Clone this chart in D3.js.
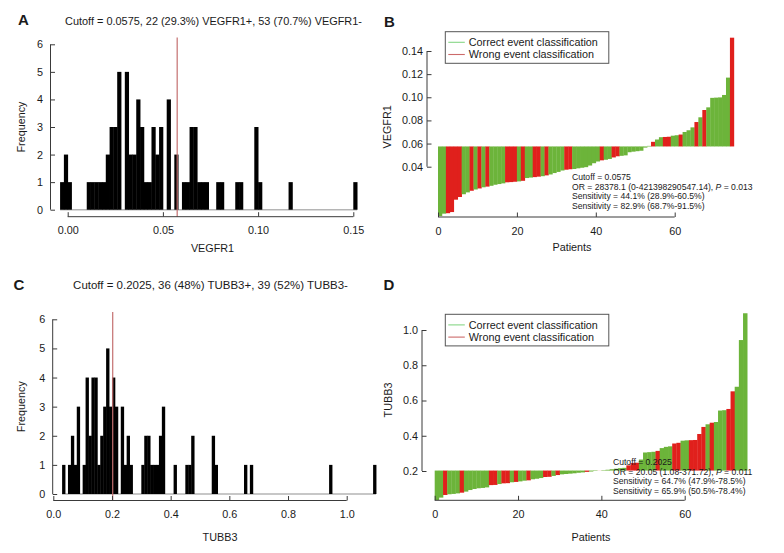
<!DOCTYPE html>
<html><head><meta charset="utf-8">
<script src="https://cdn.jsdelivr.net/npm/d3@7"></script>
<style>body{margin:0;background:#fff}svg{display:block}</style>
</head><body><svg id="c" width="784" height="553"></svg>
<script>
// ---------- DATA ----------
// Panel A: VEGFR1 histogram (bin lower edges, width 0.002)
const vegfrBinX0 = [-0.004,-0.002,0.000,0.010,0.012,0.014,0.016,0.018,0.020,0.022,0.024,0.026,0.030,0.032,0.034,0.036,0.038,0.040,0.042,0.044,0.046,0.048,0.052,0.056,0.060,0.062,0.064,0.066,0.068,0.070,0.072,0.078,0.080,0.088,0.090,0.098,0.100,0.116,0.150];
const vegfrBinCounts = [1,2,1,1,1,1,1,1,2,3,3,5,5,2,2,4,3,1,1,3,2,3,4,2,1,1,3,3,1,1,1,1,1,1,1,3,1,1,1];
const vegfrBinWidth = 0.002;
const vegfrXTicks = [0, 0.05, 0.10, 0.15];
const freqTicks = [0,1,2,3,4,5,6];

// Panel B: VEGFR1 sorted per patient, wrong classification flag (1 = wrong)
const vegfrValues = [-0.0027,-0.0006,-0.0002,0.0008,0.0115,0.0138,0.0162,0.0178,0.0192,0.0203,
  0.0212,0.0222,0.0228,0.0235,0.0244,0.0250,0.0256,0.0265,0.0267,0.0270,
  0.0273,0.0278,0.0302,0.0306,0.0310,0.0314,0.0318,0.0325,0.0333,0.0345,
  0.0355,0.0367,0.0374,0.0378,0.0380,0.0386,0.0391,0.0396,0.0410,0.0430,
  0.0445,0.0455,0.0460,0.0467,0.0480,0.0490,0.0494,0.0498,0.0525,0.0530,
  0.0534,0.0538,0.0565,0.0580,0.0615,0.0635,0.0655,0.0657,0.0659,0.0668,
  0.0672,0.0678,0.0700,0.0715,0.0740,0.0786,0.0827,0.0890,0.0913,0.0995,
  0.0997,0.0999,0.1020,0.1170,0.1515];
const vegfrWrong = [0,0,1,1,1,1,0,0,1,0, 1,0,1,0,0,0,0,1,1,1, 0,1,0,0,1,1,0,1,0,0,
  0,0,1,1,0,0,0,0,0,0, 0,1,0,0,1,1,0,0,0,0, 0,0,0,0,1,0,0,1,1,0,
  0,1,0,0,0,1,0,1,0,0, 0,0,0,0,1];
const vegfrCutoff = 0.0575;
const vegfrYTicks = [0.04,0.06,0.08,0.10,0.12,0.14];
const patientTicks = [0,20,40,60];

// Panel C: TUBB3 histogram (bin lower edges, width 0.01)
const tubbBinX0 = [0.03,0.05,0.06,0.07,0.08,0.10,0.11,0.12,0.13,0.14,0.15,0.16,0.17,0.18,0.19,0.20,0.21,0.23,0.24,0.25,0.26,0.30,0.31,0.32,0.33,0.34,0.35,0.36,0.37,0.41,0.45,0.46,0.47,0.54,0.55,0.65,0.67,0.94,1.09];
const tubbBinCounts = [1,1,2,1,3,1,4,2,4,4,1,2,3,5,3,4,3,3,1,2,1,1,2,2,1,1,1,2,3,1,1,1,2,2,1,1,1,1,1];
const tubbBinWidth = 0.01;
const tubbXTicks = [0,0.2,0.4,0.6,0.8,1.0];

// Panel D: TUBB3 sorted per patient
const tubbValues = [0.0355,0.049,0.064,0.068,0.070,0.073,0.077,0.083,0.092,0.098,
  0.102,0.104,0.107,0.120,0.121,0.126,0.130,0.131,0.136,0.138,
  0.141,0.145,0.147,0.153,0.156,0.160,0.166,0.167,0.172,0.177,
  0.181,0.183,0.185,0.187,0.190,0.192,0.195,0.197,0.200,0.203,
  0.205,0.207,0.210,0.213,0.216,0.218,0.232,0.245,0.247,0.265,
  0.305,0.307,0.309,0.314,0.330,0.337,0.340,0.356,0.360,0.372,
  0.374,0.375,0.376,0.410,0.450,0.465,0.474,0.478,0.543,0.545,
  0.552,0.652,0.678,0.943,1.095];
const tubbWrong = [0,0,1,0,0,0,1,0,0,0, 0,0,0,1,1,0,1,1,0,1, 0,0,1,0,0,0,1,1,0,1,
  0,0,0,0,0,0,1,0,0,1, 0,0,0,0,0,0,1,1,1,0, 0,0,0,1,0,0,0,1,1,0,
  0,1,1,1,1,0,1,0,0,0, 1,1,0,0,0];
const tubbCutoff = 0.2025;
const tubbYTicks = [0.2,0.4,0.6,0.8,1.0];

const legendLabels = ["Correct event classification","Wrong event classification"];
const titleA = "Cutoff = 0.0575, 22 (29.3%) VEGFR1+, 53 (70.7%) VEGFR1-";
const titleC = "Cutoff = 0.2025, 36 (48%) TUBB3+, 39 (52%) TUBB3-";
const statsB = ["Cutoff = 0.0575", ["OR = 28378.1 (0-421398290547.14), ","P"," = 0.013"], "Sensitivity = 44.1% (28.9%-60.5%)", "Sensitivity = 82.9% (68.7%-91.5%)"];
const statsD = ["Cutoff = 0.2025", ["OR = 20.05 (1.08-371.72), ","P"," = 0.011"], "Sensitivity = 64.7% (47.9%-78.5%)", "Sensitivity = 65.9% (50.5%-78.4%)"];

// ---------- DRAW ----------
const FONT = '"Liberation Sans", Arial, sans-serif';
const GREEN = "#6cb43a", RED = "#e0201c", AXIS = "#3a3a3a", TXT = "#1a1a1a";
const svg = d3.select("#c").attr("font-family", FONT);

function styleAxis(a, fs) {
  a.attr("font-family", FONT).attr("font-size", fs);
  a.selectAll(".tick line").attr("stroke", AXIS);
  a.selectAll(".tick text").attr("fill", TXT);
  a.select(".domain").remove();
}
function xAxis(scale, ticks, fmt, y, pad) {
  const a = svg.append("g").attr("transform", `translate(0,${y})`)
    .call(d3.axisBottom(scale).tickValues(ticks).tickFormat(fmt).tickSizeInner(-4.5).tickSizeOuter(0).tickPadding(pad));
  styleAxis(a, 10.8);
  a.append("line").attr("x1", scale(ticks[0])).attr("x2", scale(ticks[ticks.length-1])).attr("stroke", AXIS);
}
function yAxis(scale, ticks, fmt, x, pad) {
  const a = svg.append("g").attr("transform", `translate(${x},0)`)
    .call(d3.axisLeft(scale).tickValues(ticks).tickFormat(fmt).tickSizeInner(-4.5).tickSizeOuter(0).tickPadding(pad));
  styleAxis(a, 10.8);
  a.append("line").attr("y1", scale(ticks[0])).attr("y2", scale(ticks[ticks.length-1])).attr("stroke", AXIS);
}
function label(txt, x, y, opt = {}) {
  const t = svg.append("text").attr("x", x).attr("y", y).text(txt)
    .attr("font-size", opt.fs || 10.8).attr("fill", TXT)
    .attr("text-anchor", opt.anchor || "middle");
  if (opt.bold) t.attr("font-weight", "bold");
  if (opt.rot) t.attr("transform", `rotate(-90,${x},${y})`);
  if (opt.fitW) {
    const w = t.node().getComputedTextLength();
    if (w > 0) t.attr("font-size", (opt.fs || 10.8) * opt.fitW / w);
  }
  return t;
}

function histogram(cfg) {
  const x = d3.scaleLinear().domain([cfg.xTicks[0], cfg.xTicks[cfg.xTicks.length-1]]).range(cfg.xRange);
  const y = d3.scaleLinear().domain([0, 6]).range(cfg.yRange);
  const bins = cfg.x0.map((d, i) => ({x0: d, x1: d + cfg.w, n: cfg.counts[i]}));
  svg.append("line").attr("x1", x(bins[0].x0)).attr("x2", x(bins[bins.length-1].x1))
    .attr("y1", y(0)).attr("y2", y(0)).attr("stroke", "#b5b5b5").attr("stroke-width", 1.6);
  svg.append("g").selectAll("rect").data(bins).join("rect")
    .attr("x", d => x(d.x0)).attr("width", d => x(d.x1) - x(d.x0) + 0.4)
    .attr("y", d => y(d.n)).attr("height", d => y(0) - y(d.n)).attr("fill", "#000");
  svg.append("line").attr("x1", x(cfg.cutoff)).attr("x2", x(cfg.cutoff))
    .attr("y1", cfg.top).attr("y2", cfg.axisY).attr("stroke", "#c46f6f").attr("stroke-width", 1.2);
  xAxis(x, cfg.xTicks, cfg.fmt, cfg.axisY, 10);
  yAxis(y, freqTicks, d3.format("d"), cfg.axisX, 7.5);
  label(cfg.title, cfg.titleX, cfg.titleY, {fs: 11, fitW: cfg.titleW});
  label("Frequency", cfg.freqX, (cfg.yRange[0] + cfg.yRange[1]) / 2, {rot: true});
  label(cfg.xlab, cfg.xlabX, cfg.xlabY);
}

function waterfall(cfg) {
  const x = d3.scaleLinear().domain([0, 60]).range(cfg.xRange);
  const y = d3.scaleLinear().domain([cfg.yTicks[0], cfg.yTicks[cfg.yTicks.length-1]]).range(cfg.yRange);
  const data = cfg.values.map((v, i) => ({i, v, wrong: cfg.wrong[i]}));
  svg.append("g").selectAll("rect").data(data).join("rect")
    .attr("x", d => x(d.i)).attr("width", d => x(d.i + 1) - x(d.i) + 0.3)
    .attr("y", d => y(Math.max(d.v, cfg.cutoff)))
    .attr("height", d => Math.abs(y(d.v) - y(cfg.cutoff)))
    .attr("fill", d => d.wrong ? RED : GREEN);
  xAxis(x, patientTicks, d3.format("d"), cfg.axisY, 10);
  yAxis(y, cfg.yTicks, cfg.fmt, cfg.axisX, 4);
  label("Patients", cfg.patX, cfg.patY);
  label(cfg.ylab, cfg.ylabX, (cfg.yRange[0] + cfg.yRange[1]) / 2 + cfg.ylabDy, {rot: true});
  // legend
  const lg = svg.append("g").attr("transform", `translate(${cfg.legX},${cfg.legY})`);
  lg.append("rect").attr("width", 163.5).attr("height", 31.6).attr("fill", "#fff").attr("stroke", "#555");
  [["#86d686", 10.6], ["#cc6a6a", 22.8]].forEach(([c, yy], k) => {
    lg.append("line").attr("x1", 3).attr("x2", 19.5).attr("y1", yy).attr("y2", yy).attr("stroke", c).attr("stroke-width", 1.1);
    lg.append("text").attr("x", 23.5).attr("y", yy + 3.9).text(legendLabels[k]).attr("font-size", 10.8).attr("fill", TXT);
  });
  // stats
  cfg.stats.forEach((s, k) => {
    const t = svg.append("text").attr("x", cfg.statX).attr("y", cfg.statY + k * 9.7)
      .attr("font-size", 8.6).attr("fill", TXT);
    if (Array.isArray(s)) {
      t.append("tspan").text(s[0]);
      t.append("tspan").text(s[1]).attr("font-style", "italic");
      t.append("tspan").text(s[2]);
    } else t.text(s);
  });
}

histogram({x0: vegfrBinX0, counts: vegfrBinCounts, w: vegfrBinWidth, xTicks: vegfrXTicks,
  fmt: d3.format(".2f"), xRange: [67.7, 353.3], yRange: [209.7, 44.3], cutoff: vegfrCutoff,
  top: 37.5, axisY: 216.7, axisX: 50.5, title: titleA, titleX: 213.5, titleY: 24.5, titleW: 297,
  freqX: 25, xlab: "VEGFR1", xlabX: 212.5, xlabY: 252});

histogram({x0: tubbBinX0, counts: tubbBinCounts, w: tubbBinWidth, xTicks: tubbXTicks,
  fmt: d3.format(".1f"), xRange: [53.3, 346.7], yRange: [494, 319.3], cutoff: tubbCutoff,
  top: 312, axisY: 500.5, axisX: 52.7, title: titleC, titleX: 210.5, titleY: 289, titleW: 275,
  freqX: 25, xlab: "TUBB3", xlabX: 220, xlabY: 541});

waterfall({values: vegfrValues, wrong: vegfrWrong, cutoff: vegfrCutoff, yTicks: vegfrYTicks,
  fmt: d3.format(".2f"), xRange: [438, 674.7], yRange: [166.7, 51], axisY: 217, axisX: 427,
  patX: 572, patY: 251, ylab: "VEGFR1", ylabX: 391.5, ylabDy: 18, legX: 445.3, legY: 31.7,
  stats: statsB, statX: 572, statY: 180});

waterfall({values: tubbValues, wrong: tubbWrong, cutoff: tubbCutoff, yTicks: tubbYTicks,
  fmt: d3.format(".1f"), xRange: [434.7, 684.7], yRange: [471, 330], axisY: 500.3, axisX: 422,
  patX: 591, patY: 541, ylab: "TUBB3", ylabX: 391.5, ylabDy: -0.5, legX: 445.3, legY: 314.3,
  stats: statsD, statX: 613, statY: 465});

label("A", 18, 25, {fs: 15, bold: true, anchor: "start"});
label("B", 384, 26.5, {fs: 15, bold: true, anchor: "start"});
label("C", 13.5, 289.5, {fs: 15, bold: true, anchor: "start"});
label("D", 383.5, 290, {fs: 15, bold: true, anchor: "start"});
</script></body></html>
